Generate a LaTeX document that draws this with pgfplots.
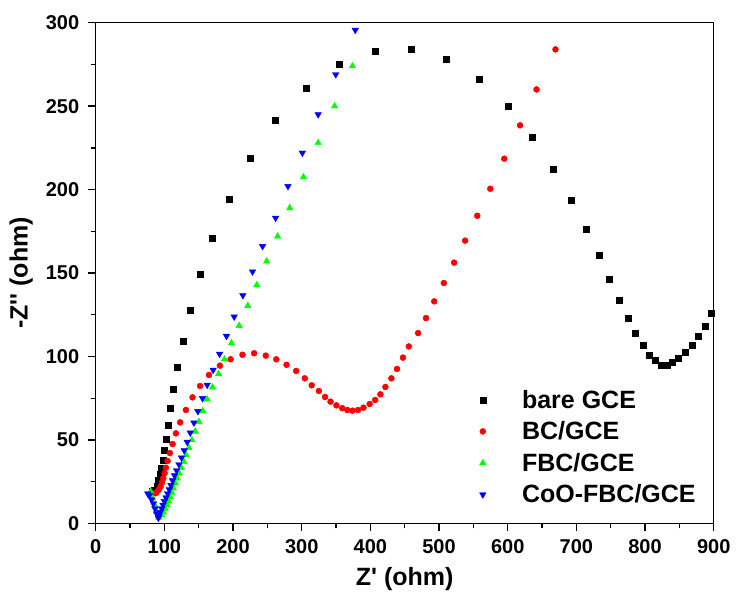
\documentclass[border=0pt]{standalone}
\usepackage{fontspec}
\setmainfont{Liberation Sans}
\usepackage{pgfplots}
\pgfplotsset{compat=1.18}
\definecolor{mygreen}{RGB}{0,255,0}
\definecolor{myblue}{RGB}{0,0,255}
\definecolor{myred}{RGB}{255,0,0}
\begin{document}
\begin{tikzpicture}
\useasboundingbox (-95.7pt,-82.7pt) rectangle (640.3pt,523.3pt);
\begin{axis}[
  at={(0pt,0pt)}, anchor=south west,
  scale only axis, width=618pt, height=500.6pt,
  xmin=0, xmax=900, ymin=0, ymax=300,
  axis line style={line width=1.3pt},
  xtick={0,100,...,900}, ytick={0,50,...,300},
  minor x tick num=1, minor y tick num=1,
  tick align=outside, xtick pos=bottom, ytick pos=left,
  major tick length=8pt, minor tick length=5pt,
  every tick/.style={line width=1.3pt, black},
  /pgf/number format/assume math mode=true,
  ticklabel style={font=\fontsize{20}{23}\selectfont\bfseries},
  yticklabel style={xshift=-5pt},
  xticklabel style={yshift=-5pt},
  xlabel={Z\textquotesingle{} (ohm)},
  ylabel={-Z\textquotesingle\textquotesingle{} (ohm)},
  label style={font=\fontsize{25}{30}\selectfont\bfseries},
  xlabel style={yshift=-6pt},
  ylabel style={yshift=6pt},
  legend style={at={(axis description cs:0.608,0.152)}, anchor=west, draw=none, fill=none,
    font=\fontsize{25}{30}\selectfont\bfseries, row sep=8pt},
  legend cell align=left,
  legend image code/.code={\path (0pt,0pt) (45pt,0pt); \draw[mark repeat=2,mark phase=2,#1] plot coordinates {(0pt,0pt) (8pt,0pt) (16pt,0pt)};},
]
\addplot[only marks, mark=square*, mark size=3pt, color=black] coordinates {
(82,19.5)(85,20)(89,22.3)(91.6,26)(94,29.5)(96,33.3)(98,38)(100,43.7)(102,50.3)(105,58.7)
(108,68.7)(112.5,80.3)(118.8,93.7)(127,109)(137,127.6)(151.5,149)(170,171)(194,194)(225,219)
(262,241.5)(306,261)(355,275)(407,283)(460,284)(511,278)(558,266)(600,249.7)(636,231.5)
(666,212.5)(692,193.7)(714,176)(732.6,160.8)(748,146.4)(763,134)(775,123)(786,114)(797,107)
(806,101)(815,97.5)(824,95)(832,95)(840,96.5)(849,99)(858,102.7)(868,107)(877,112)(887,118.4)(897,126)
};
\addlegendentry{bare GCE}
\addplot[only marks, mark=*, mark size=3pt, color=myred] coordinates {
(87,18)(88.5,18.5)(91.6,20)(94.5,22)(96.5,24.4)(98.4,27)(100.4,30)(102.2,33.3)(104.7,37.3)
(108,42.1)(112,47.5)(116.8,53.9)(123,60.5)(131.4,67.9)(141,75.5)(152,82.3)(165,88.9)(180.9,94.5)
(196.4,98.3)(213.8,101)(230.7,101.9)(247.7,100.5)(263,98.3)(278,95)(292,91.3)(304.5,86.9)
(314.6,82.7)(325,79.3)(334,75.7)(342,72.9)(350.6,70.7)(359,69)(366.5,67.9)(374,67.5)(382,67.9)
(390,69.3)(399,71.5)(407,73.9)(414.6,77.3)(421.9,81.7)(430.6,86.9)(438.8,92.5)(447.5,99.3)
(456,106)(469.5,114)(481,123)(493,133)(507,144)(522,156.2)(538,169.4)(555.7,184.3)(574.6,200.5)
(595,218.5)(618,238.5)(642,260)(669.6,284)
};
\addlegendentry{BC/GCE}
\addplot[only marks, mark=triangle*, mark size=3.8pt, color=mygreen] coordinates {
(80,19)(83,15)(86,11)(89,7)(92,3.5)(96,5)(98.8,6.6)(101,8.8)(103.6,11)(106,13.4)(108.3,15.8)
(110.7,18.4)(113,21)(116,24)(118.8,27)(121.7,30)(125,33.3)(128.5,36.9)(131.8,40.9)(135.7,45.3)
(140.1,49.9)(145,55)(150.4,60.9)(156.1,67.3)(162.4,74.3)(170.2,81.5)(178.9,89.5)(187.6,98.3)
(197.8,108)(209,118.4)(221.6,130.4)(234.7,142.8)(249,157)(265,172)(282.6,189)(302.6,207.5)
(324,228)(348,250)(374,274)(401.5,300.6)
};
\addlegendentry{FBC/GCE}
\addplot[only marks, mark=triangle*, mark size=3.8pt, mark options={rotate=180}, color=myblue] coordinates {
(75.8,17.8)(78.2,16.8)(81.5,14.2)(84,11.8)(86.4,8.8)(88.8,5.8)(91.3,3.2)(92.2,4.6)(94.1,6.6)
(96.1,8.8)(98,11)(100,13.2)(102.4,15.4)(104.8,17.8)(107.2,20.2)(109.6,22.8)(112,25.6)(114.9,28.6)
(117.8,31.7)(121.2,35.3)(125,39.3)(128.9,43.7)(133.3,48.7)(137.7,54.3)(143,60.3)(148.8,67.1)
(155.6,74.9)(162.4,82.9)(171,91.9)(180.4,101.5)(190.5,112.2)(201.7,123.8)(214.3,136.6)
(228.4,150.8)(243,166)(262,183)(280,202)(301,222)(324,245)(349.6,269)(378,295.6)
};
\addlegendentry{CoO-FBC/GCE}
\end{axis}
\end{tikzpicture}
\end{document}
